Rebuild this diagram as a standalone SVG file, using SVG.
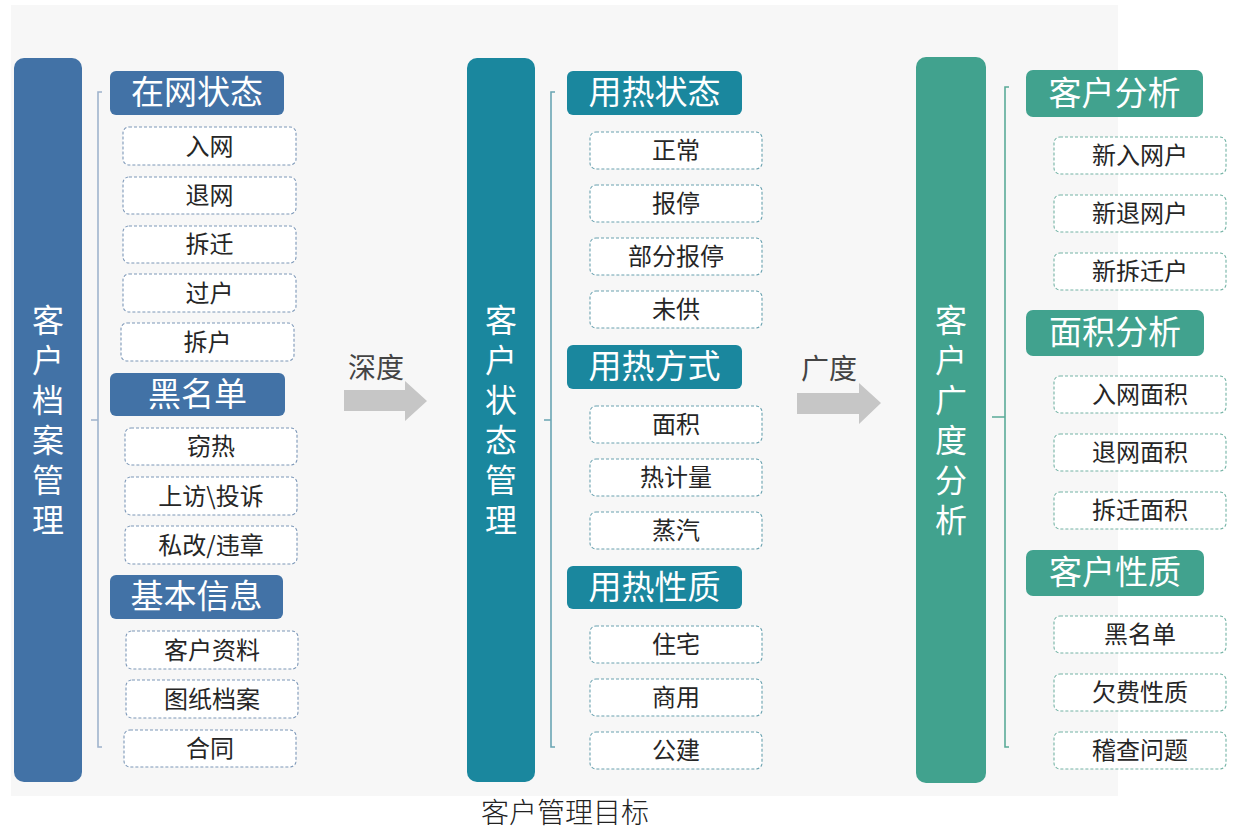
<svg xmlns="http://www.w3.org/2000/svg" width="1235" height="830" viewBox="0 0 1235 830">
<style>
.cjk{font-family:"Noto Sans CJK SC","Noto Sans",sans-serif;}
.pillar text{font-size:32px;fill:#fff;text-anchor:middle;writing-mode:vertical-rl;letter-spacing:8px;}
.hd text{font-size:33px;fill:#fff;text-anchor:middle;dominant-baseline:central;transform:translateY(-3px);}
.it rect{fill:#fff;stroke-width:1.1;stroke-dasharray:3 2;}
.it text{font-size:24px;fill:#262626;text-anchor:middle;dominant-baseline:central;transform:translateY(-2px);}
.c1 .it rect{stroke:#7d98b8;}
.c2 .it rect{stroke:#6aa2b0;}
.c3 .it rect{stroke:#74b3a5;}
.lbl{font-size:28px;fill:#444;}
.br{fill:none;stroke-width:1.6;}
</style>
<rect x="0" y="0" width="1235" height="830" fill="#fff"/>
<rect x="11" y="5" width="1107" height="791" fill="#f7f7f7"/>

<g id="connectors">
  <path class="br" stroke="#9fb3cc" d="M102,92 H98 V747 H102 M98,420 H91"/>
  <path class="br" stroke="#6aa5b3" d="M555,92 H551 V747 H555 M551,420 H544"/>
  <path class="br" stroke="#5aab98" d="M1009,87 H1005 V747 H1009 M1005,417 H992"/>
  <g id="arrow-depth">
    <polygon points="344,390 405,390 405,381 427,401 405,421 405,411 344,411" fill="#c6c6c6"/>
    <text class="cjk lbl" x="376" y="378" text-anchor="middle">深度</text>
  </g>
  <g id="arrow-breadth">
    <polygon points="797,393 859,393 859,383 881,403 859,424 859,414 797,414" fill="#c6c6c6"/>
    <text class="cjk lbl" x="829" y="379" text-anchor="middle">广度</text>
  </g>
</g>

<!-- Column 1 -->
<g id="col1" class="c1 cjk">
  <g id="pillar1" class="pillar">
    <rect x="14" y="58" width="68" height="724" rx="10" fill="#4272a6"/>
    <text x="48" y="424">客户档案管理</text>
  </g>
  <g id="h-zaiwang" class="hd"><rect x="110" y="71" width="174" height="44" rx="6" fill="#4272a6"/><text x="197" y="93">在网状态</text></g>
  <g id="i-ruwang" class="it"><rect x="123" y="127" width="173" height="38" rx="6"/><text x="209.5" y="146">入网</text></g>
  <g id="i-tuiwang" class="it"><rect x="123" y="177" width="173" height="37" rx="6"/><text x="209.5" y="195.5">退网</text></g>
  <g id="i-chaiqian" class="it"><rect x="123" y="226" width="173" height="37" rx="6"/><text x="209.5" y="244.5">拆迁</text></g>
  <g id="i-guohu" class="it"><rect x="123" y="274" width="173" height="38" rx="6"/><text x="209.5" y="293">过户</text></g>
  <g id="i-chaihu" class="it"><rect x="121" y="323" width="173" height="38" rx="6"/><text x="207.5" y="342">拆户</text></g>
  <g id="h-heimingdan" class="hd"><rect x="110" y="373" width="175" height="43" rx="6" fill="#4272a6"/><text x="197.5" y="394.5">黑名单</text></g>
  <g id="i-qiere" class="it"><rect x="125" y="428" width="172" height="37" rx="6"/><text x="211" y="446.5">窃热</text></g>
  <g id="i-shangfang" class="it"><rect x="125" y="477" width="172" height="38" rx="6"/><text x="211" y="496">上访\投诉</text></g>
  <g id="i-sigai" class="it"><rect x="125" y="526" width="172" height="38" rx="6"/><text x="211" y="545">私改/违章</text></g>
  <g id="h-jiben" class="hd"><rect x="110" y="575" width="173" height="44" rx="6" fill="#4272a6"/><text x="196.5" y="597">基本信息</text></g>
  <g id="i-ziliao" class="it"><rect x="126" y="631" width="172" height="38" rx="6"/><text x="212" y="650">客户资料</text></g>
  <g id="i-tuzhi" class="it"><rect x="126" y="680" width="172" height="38" rx="6"/><text x="212" y="699">图纸档案</text></g>
  <g id="i-hetong" class="it"><rect x="124" y="730" width="172" height="37" rx="6"/><text x="210" y="748.5">合同</text></g>
</g>

<!-- Column 2 -->
<g id="col2" class="c2 cjk">
  <g id="pillar2" class="pillar">
    <rect x="467" y="58" width="68" height="724" rx="10" fill="#1a879e"/>
    <text x="501" y="424">客户状态管理</text>
  </g>
  <g id="h-yrzt" class="hd"><rect x="567" y="71" width="175" height="44" rx="6" fill="#1a879e"/><text x="654.5" y="93">用热状态</text></g>
  <g id="i-zhengchang" class="it"><rect x="590" y="132" width="172" height="37" rx="6"/><text x="676" y="150.5">正常</text></g>
  <g id="i-baoting" class="it"><rect x="590" y="185" width="172" height="37" rx="6"/><text x="676" y="203.5">报停</text></g>
  <g id="i-bfbt" class="it"><rect x="590" y="238" width="172" height="37" rx="6"/><text x="676" y="256.5">部分报停</text></g>
  <g id="i-weigong" class="it"><rect x="590" y="291" width="172" height="37" rx="6"/><text x="676" y="309.5">未供</text></g>
  <g id="h-yrfs" class="hd"><rect x="567" y="345" width="175" height="44" rx="6" fill="#1a879e"/><text x="654.5" y="367">用热方式</text></g>
  <g id="i-mianji" class="it"><rect x="590" y="406" width="172" height="37" rx="6"/><text x="676" y="424.5">面积</text></g>
  <g id="i-rejiliang" class="it"><rect x="590" y="459" width="172" height="37" rx="6"/><text x="676" y="477.5">热计量</text></g>
  <g id="i-zhengqi" class="it"><rect x="590" y="512" width="172" height="37" rx="6"/><text x="676" y="530.5">蒸汽</text></g>
  <g id="h-yrxz" class="hd"><rect x="567" y="566" width="175" height="43" rx="6" fill="#1a879e"/><text x="654.5" y="587.5">用热性质</text></g>
  <g id="i-zhuzhai" class="it"><rect x="590" y="626" width="172" height="37" rx="6"/><text x="676" y="644.5">住宅</text></g>
  <g id="i-shangyong" class="it"><rect x="590" y="679" width="172" height="37" rx="6"/><text x="676" y="697.5">商用</text></g>
  <g id="i-gongjian" class="it"><rect x="590" y="732" width="172" height="37" rx="6"/><text x="676" y="750.5">公建</text></g>
</g>

<!-- Column 3 -->
<g id="col3" class="c3 cjk">
  <g id="pillar3" class="pillar">
    <rect x="916" y="57" width="70" height="726" rx="10" fill="#41a28e"/>
    <text x="951" y="424">客户广度分析</text>
  </g>
  <g id="h-khfx" class="hd"><rect x="1026" y="70" width="177" height="47" rx="7" fill="#41a28e"/><text x="1114.5" y="93.5">客户分析</text></g>
  <g id="i-xrwh" class="it"><rect x="1054" y="137" width="172" height="37" rx="6"/><text x="1140" y="155.5">新入网户</text></g>
  <g id="i-xtwh" class="it"><rect x="1054" y="195" width="172" height="37" rx="6"/><text x="1140" y="213.5">新退网户</text></g>
  <g id="i-xcqh" class="it"><rect x="1054" y="253" width="172" height="37" rx="6"/><text x="1140" y="271.5">新拆迁户</text></g>
  <g id="h-mjfx" class="hd"><rect x="1026" y="310" width="178" height="46" rx="7" fill="#41a28e"/><text x="1115" y="333">面积分析</text></g>
  <g id="i-rwmj" class="it"><rect x="1054" y="376" width="172" height="37" rx="6"/><text x="1140" y="394.5">入网面积</text></g>
  <g id="i-twmj" class="it"><rect x="1054" y="434" width="172" height="37" rx="6"/><text x="1140" y="452.5">退网面积</text></g>
  <g id="i-cqmj" class="it"><rect x="1054" y="492" width="172" height="37" rx="6"/><text x="1140" y="510.5">拆迁面积</text></g>
  <g id="h-khxz" class="hd"><rect x="1026" y="550" width="178" height="46" rx="7" fill="#41a28e"/><text x="1115" y="573">客户性质</text></g>
  <g id="i-hmd" class="it"><rect x="1054" y="616" width="172" height="37" rx="6"/><text x="1140" y="634.5">黑名单</text></g>
  <g id="i-qfxz" class="it"><rect x="1054" y="674" width="172" height="37" rx="6"/><text x="1140" y="692.5">欠费性质</text></g>
  <g id="i-jcwt" class="it"><rect x="1054" y="732" width="172" height="37" rx="6"/><text x="1140" y="750.5">稽查问题</text></g>
</g>

<text id="caption" x="565" y="823" text-anchor="middle" font-family="'Liberation Serif','Noto Sans CJK SC',serif" font-size="28" font-weight="300" fill="#222">客户管理目标</text>
</svg>
